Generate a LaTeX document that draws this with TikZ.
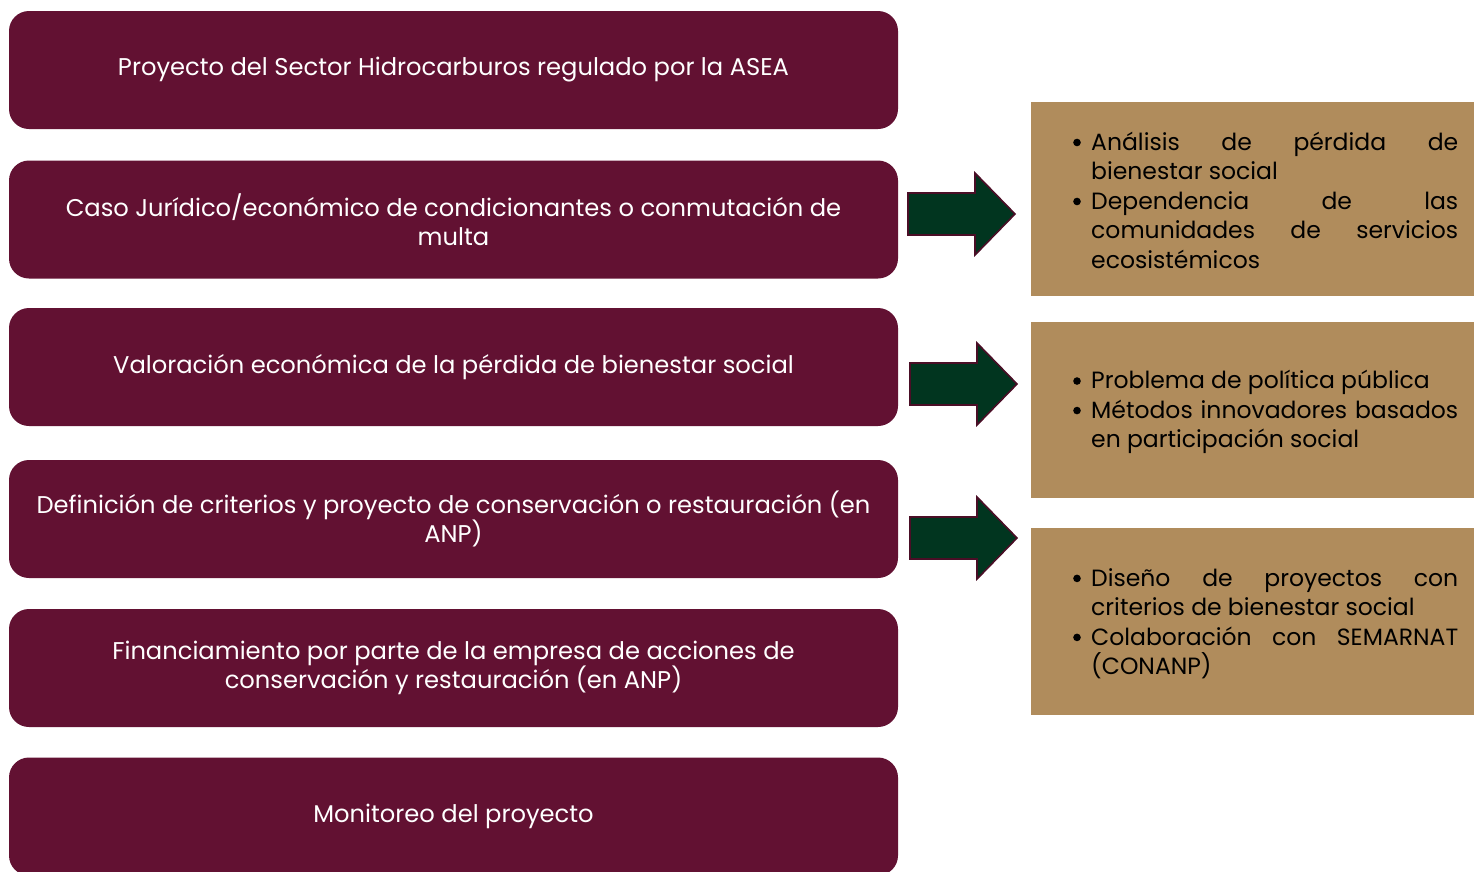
\documentclass[tikz,border=0pt]{standalone}
\usepackage{fontspec}
\setmainfont{Poppins}
\usetikzlibrary{calc}
\definecolor{maroon}{HTML}{621132}
\definecolor{tan}{HTML}{B08C5C}
\definecolor{dgreen}{HTML}{01351F}
\definecolor{arrowline}{HTML}{4A0E26}
\begin{document}
\begin{tikzpicture}[x=1pt,y=-1pt,
  stepbox/.style={fill=maroon, rounded corners=20pt, minimum width=889pt, minimum height=118pt,
    text=white, align=center, font=\fontsize{24.2}{29.5}\selectfont, inner sep=0pt},
  infobox/.style={fill=tan, minimum width=443pt, anchor=north west, inner sep=0pt},
  infotext/.style={text width=385pt, align=justify, font=\fontsize{23.5}{29.5}\selectfont, text=black, inner sep=0pt},
  bigarrow/.style={fill=dgreen, draw=arrowline, line width=1.6pt, line join=miter}
]
\useasboundingbox (0,0) rectangle (1474,871);
\clip (0,0) rectangle (1474,871);
\newcommand{\bitem}[1]{{\hyphenpenalty=10000\exhyphenpenalty=10000\hangindent=18pt\hangafter=1\noindent\makebox[18pt][l]{\tikz[baseline=0pt]{\fill (3.8pt,7.8pt) circle[radius=3.8pt];}}#1\par}}

% left boxes
\node[stepbox] (s1) at (453.5,70) {Proyecto del Sector Hidrocarburos regulado por la ASEA};
\node[stepbox] (s2) at (453.5,219.5) {Caso Jurídico/económico de condicionantes o conmutación de\\multa};
\node[stepbox] (s3) at (453.5,367) {Valoración económica de la pérdida de bienestar social};
\node[stepbox] (s4) at (453.5,519) {Definición de criterios y proyecto de conservación o restauración (en\\ANP)};
\node[stepbox] (s5) at (453.5,668) {Financiamiento por parte de la empresa de acciones de\\conservación y restauración (en ANP)};
\node[stepbox] (s6) at (453.5,816.5) {Monitoreo del proyecto};

% right boxes
\node[infobox, minimum height=194pt] (r1) at (1031,102) {};
\node[infobox, minimum height=176pt] (r2) at (1031,322) {};
\node[infobox, minimum height=187pt] (r3) at (1031,528) {};

\node[infotext] (t1) at ([xshift=13pt,yshift=-1pt]r1.center) {\bitem{Análisis de pérdida de bienestar social}\bitem{Dependencia de las comunidades de servicios ecosistémicos}};
\node[infotext] (t2) at ([xshift=13pt,yshift=-2pt]r2.center) {\bitem{Problema de política pública}\bitem{Métodos innovadores basados en participación social}};
\node[infotext] (t3) at ([xshift=13pt,yshift=-2pt]r3.center) {\bitem{Diseño de proyectos con criterios de bienestar social}\bitem{Colaboración con SEMARNAT (CONANP)}};

% arrows
\coordinate (a1) at (908,214);
\coordinate (a2) at (910,384);
\coordinate (a3) at (910,538);
\foreach \a in {a1,a2,a3}{
  \draw[bigarrow] ($(\a)+(0,-21)$) -- ++(67,0) -- ++(0,-20) -- ++(40,41) -- ++(-40,41) -- ++(0,-20) -- ++(-67,0) -- cycle;
}
\end{tikzpicture}
\end{document}
